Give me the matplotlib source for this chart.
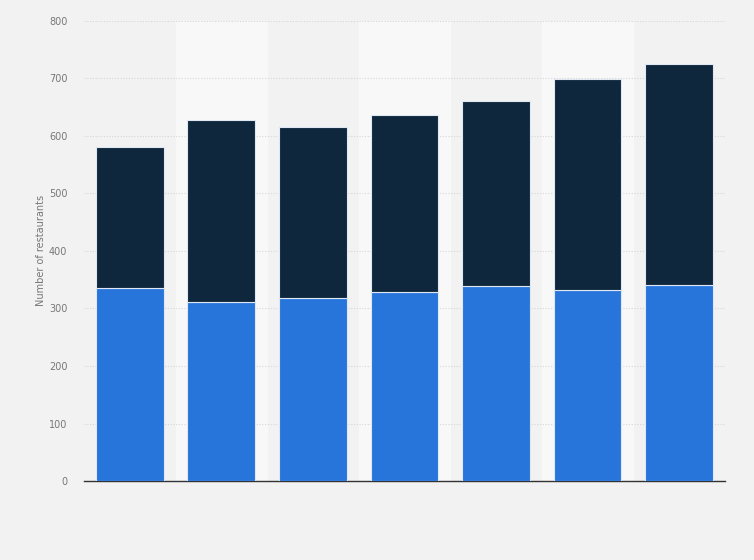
import numpy as np
import matplotlib.pyplot as plt

# values
years = ["2013", "2014", "2015", "2016", "2017", "2018", "2019"]
lower = [336, 311, 318, 328, 339, 332, 340]
totals = [580, 627, 615, 637, 660, 698, 724]
upper = [t - l for t, l in zip(totals, lower)]

fig = plt.figure(figsize=(7.54, 5.6), dpi=100)
fig.patch.set_facecolor("#f2f2f2")
ax = fig.add_axes([0.1114, 0.141, 0.8501, 0.822])
ax.set_facecolor("#f2f2f2")

x = np.arange(len(years))

# alternating background bands
for i in x:
    if i % 2 == 1:
        ax.axvspan(i - 0.5, i + 0.5, color="#f8f8f8", zorder=0)

ax.bar(x, lower, width=0.74, color="#2775db", edgecolor="#dfe7f2", linewidth=0.8, zorder=3)
ax.bar(x, upper, bottom=lower, width=0.74, color="#0f273d", edgecolor="#dfe7f2", linewidth=0.8, zorder=3)

ax.set_xlim(-0.5, len(years) - 0.5)
ax.set_ylim(0, 800)
ax.set_yticks(range(0, 801, 100))
ax.set_xticks([])
ax.yaxis.grid(True, linestyle=(0, (1, 1.5)), color="#d6d6d6", linewidth=0.8, zorder=1)
ax.set_axisbelow(True)

for s in ["top", "right", "left"]:
    ax.spines[s].set_visible(False)
ax.spines["bottom"].set_color("#333333")
ax.spines["bottom"].set_linewidth(1.0)
ax.tick_params(axis="y", length=0, labelsize=7, labelcolor="#777777", pad=12)

ax.set_ylabel("Number of restaurants", fontsize=7, color="#777777", labelpad=0)
ax.yaxis.set_label_coords(-0.06, 0.5)

plt.savefig("out.png", dpi=100, facecolor=fig.get_facecolor())
